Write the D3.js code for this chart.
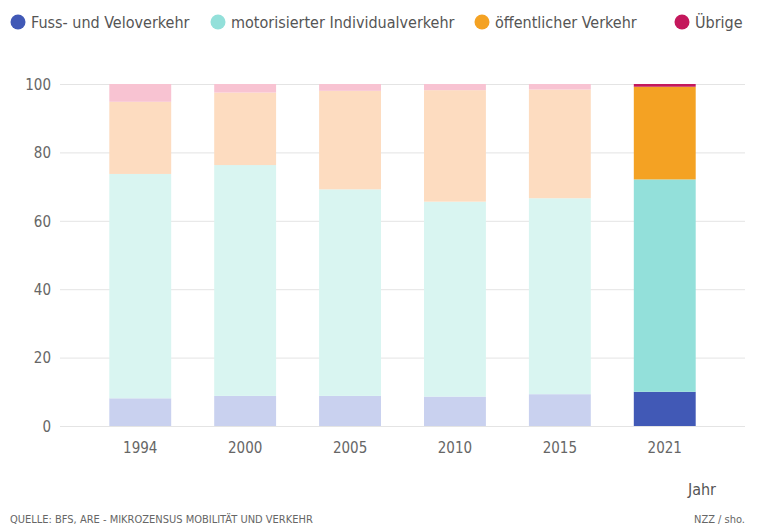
<!DOCTYPE html>
<meta charset="utf-8">
<head>
    <script src="https://d3js.org/d3.v7.min.js"></script>
    <style>
        body { margin: 0; background: #fff; }
        text { font-family: "Liberation Sans Narrow", "DejaVu Sans Condensed", sans-serif; }
        .grid line { stroke: #e4e4e4; }
        .grid .domain { display: none; }
        .tick text { fill: #666; font-size: 15px; }
    </style>
</head>
<body>
<div id="chart"></div>
<script>
    // data (share in %)
    var years = ["1994", "2000", "2005", "2010", "2015", "2021"];
    var fuss = [8.1, 8.8, 8.8, 8.6, 9.3, 10.0];
    var miv = [65.6, 67.5, 60.4, 57.0, 57.3, 62.1];
    var oev = [21.1, 21.2, 28.8, 32.6, 31.8, 27.1];
    var uebrige = [5.2, 2.5, 2.0, 1.8, 1.6, 0.8];
    var seriesNames = ["Fuss- und Veloverkehr", "motorisierter Individualverkehr", "öffentlicher Verkehr", "Übrige"];
    var yTicks = [0, 20, 40, 60, 80, 100];

    var colors = ["#4159b6", "#93e0da", "#f4a223", "#c4185c"];
    var faded = ["#c9d1ef", "#d9f5f1", "#fddcc0", "#f8c3d2"];
    var highlightYear = "2021";

    var width = 758, height = 528;
    var svg = d3.select("#chart").append("svg")
        .attr("width", width)
        .attr("height", height);

    var table = years.map(function(y, i) {
        return { year: y, f: fuss[i], m: miv[i], o: oev[i], u: uebrige[i] };
    });
    var keys = ["f", "m", "o", "u"];
    var stacked = d3.stack().keys(keys)(table);

    var x = d3.scaleBand()
        .domain(years)
        .range([60, 745])
        .paddingInner(0.41)
        .paddingOuter(0.47);

    var y = d3.scaleLinear()
        .domain([0, 100])
        .range([426, 84]);

    // grid lines + y labels
    var yAxis = svg.append("g")
        .attr("class", "grid")
        .attr("transform", "translate(60,0)")
        .call(d3.axisLeft(y).tickValues(yTicks).tickSize(-685).tickPadding(9));
    yAxis.selectAll(".tick line").attr("stroke", "#e4e4e4");
    yAxis.selectAll(".tick text").attr("dy", "0.35em");

    // bars
    svg.append("g").selectAll("g")
        .data(stacked)
        .enter().append("g")
        .each(function(s, si) {
            d3.select(this).selectAll("rect")
                .data(s)
                .enter().append("rect")
                .attr("x", function(d) { return x(d.data.year); })
                .attr("width", x.bandwidth())
                .attr("y", function(d) { return y(d[1]); })
                .attr("height", function(d) { return y(d[0]) - y(d[1]); })
                .attr("fill", function(d) { return d.data.year === highlightYear ? colors[si] : faded[si]; });
        });

    // x axis labels
    var xAxis = svg.append("g")
        .attr("class", "grid")
        .attr("transform", "translate(0,426)")
        .call(d3.axisBottom(x).tickSize(0).tickPadding(16));

    svg.append("text")
        .attr("x", 716).attr("y", 495)
        .attr("text-anchor", "end")
        .style("font-size", "16px")
        .attr("fill", "#555")
        .text("Jahr");

    // legend
    var legendX = [18, 218, 482, 682];
    var legend = svg.append("g").selectAll("g")
        .data(seriesNames)
        .enter().append("g")
        .attr("transform", function(d, i) { return "translate(" + legendX[i] + ",22)"; });
    legend.append("circle")
        .attr("r", 7.5)
        .attr("fill", function(d, i) { return colors[i]; });
    legend.append("text")
        .attr("x", 13)
        .attr("dy", "0.35em")
        .style("font-size", "16px")
        .attr("fill", "#555")
        .text(function(d) { return d; });

    // footer
    svg.append("text")
        .attr("x", 10).attr("y", 523)
        .style("font-size", "11px")
        .attr("fill", "#666")
        .text("QUELLE: BFS, ARE - MIKROZENSUS MOBILITÄT UND VERKEHR");
    svg.append("text")
        .attr("x", 745).attr("y", 523)
        .attr("text-anchor", "end")
        .style("font-size", "11px")
        .attr("fill", "#666")
        .text("NZZ / sho.");
</script>
</body>
